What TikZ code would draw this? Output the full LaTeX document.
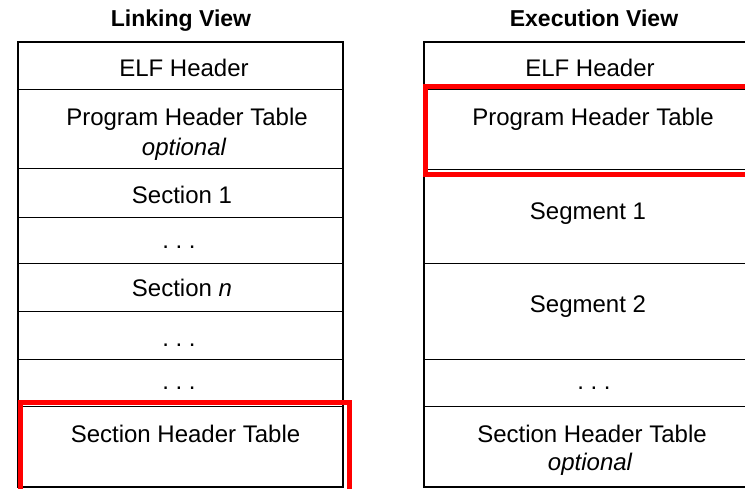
\documentclass[tikz,border=0pt]{standalone}
\usepackage{fontspec}
\setmainfont{Liberation Sans}
\begin{document}
\begin{tikzpicture}[x=1pt,y=-1pt,
  frame/.style={draw=black,line width=1.8pt},
  row/.style={draw=black,line width=1pt,rectangle,inner sep=0pt,outer sep=0pt},
  txt/.style={anchor=base,inner sep=0pt,font=\fontsize{24}{28}\selectfont},
  ttl/.style={anchor=base,inner sep=0pt,font=\fontsize{23}{28}\selectfont\bfseries},
  hilite/.style={draw=red,line width=5pt}]
\useasboundingbox (0,0) rectangle (745,489);
\clip (0,0) rectangle (745,489);

% titles
\node[ttl] (lview) at (181,27) {Linking View};
\node[ttl] (eview) at (594,27) {Execution View};

% linking view: row boxes
\foreach \nm/\ya/\yb in {lelf/42/90, lpht/90/169, ls1/169/218, ld1/218/264,
  lsn/264/312, ld2/312/359, ld3/359/406, lsht/406/487}{
  \node[row,minimum width=325pt,minimum height={(\yb-\ya)*1pt}]
    (\nm) at (180.5,{(\ya+\yb)/2}) {};
}
\draw[frame] (lelf.north west) rectangle (lsht.south east);

% linking view: texts
\node[txt] (lelft) at (184,77) {ELF Header};
\node[txt] (lphtt) at (187,126) {Program Header Table};
\node[txt] (lphto) at (184,156) {\itshape optional};
\node[txt] (ls1t) at (182,204) {Section 1};
\node[txt] (ld1t) at (179,249) {.\ .\ .};
\node[txt] (lsnt) at (182,297) {Section \itshape n};
\node[txt] (ld2t) at (179,347) {.\ .\ .};
\node[txt] (ld3t) at (179,389) {.\ .\ .};
\node[txt] (lshtt) at (185.5,442) {Section Header Table};

% execution view: row boxes
\foreach \nm/\ya/\yb in {eelf/42/90, epht/90/170, es1/170/264, es2/264/359,
  ed1/359/406, esht/406/487}{
  \node[row,minimum width=326pt,minimum height={(\yb-\ya)*1pt}]
    (\nm) at (587,{(\ya+\yb)/2}) {};
}
\draw[frame] (eelf.north west) rectangle (esht.south east);

% execution view: texts
\node[txt] (eelft) at (590,77) {ELF Header};
\node[txt] (ephtt) at (593,126) {Program Header Table};
\node[txt] (es1t) at (588,220) {Segment 1};
\node[txt] (es2t) at (588,313) {Segment 2};
\node[txt] (ed1t) at (594,389) {.\ .\ .};
\node[txt] (eshtt) at (592,442) {Section Header Table};
\node[txt] (eshto) at (590,470) {\itshape optional};

% highlighted tables
\draw[hilite] (20,402.5) rectangle (349.5,500);
\draw[hilite] (425,87) rectangle (770,175);
\end{tikzpicture}
\end{document}
